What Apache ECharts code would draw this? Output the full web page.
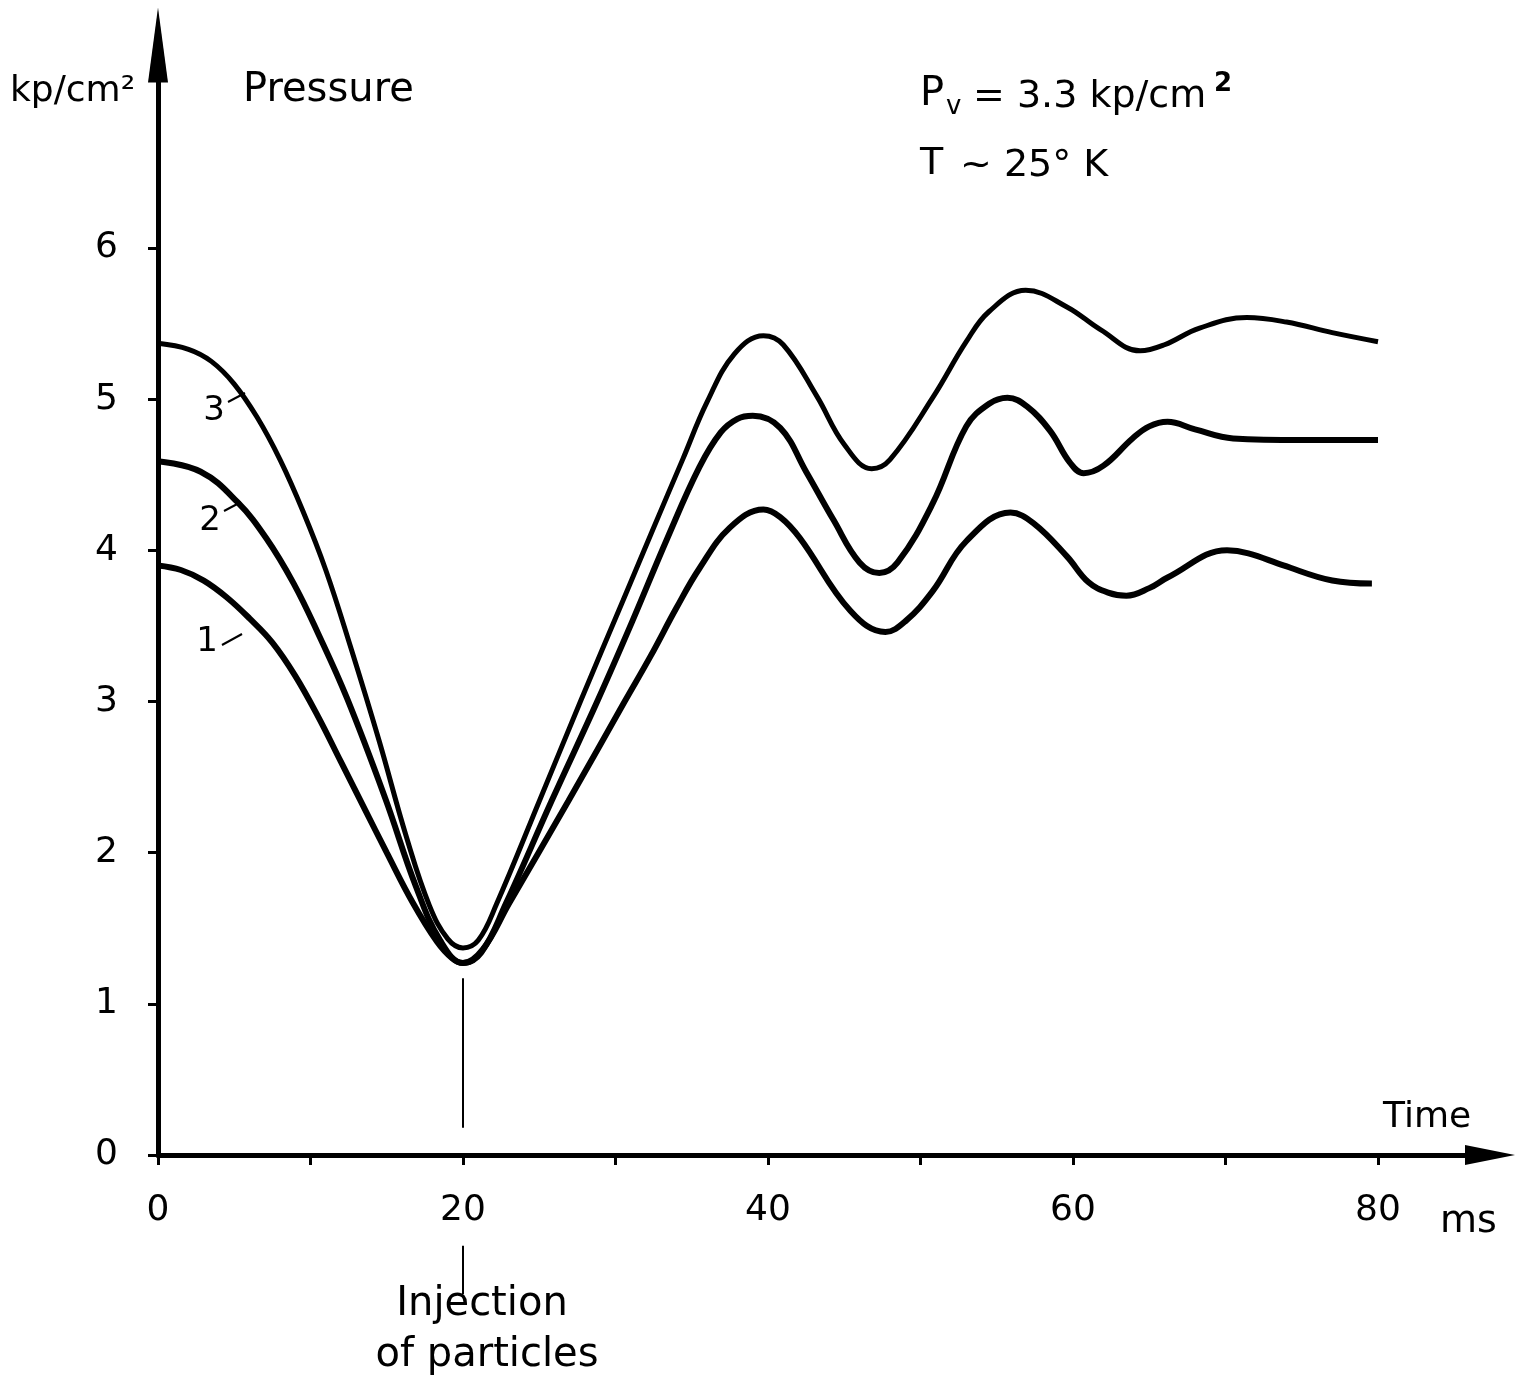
<!DOCTYPE html>
<html><head><meta charset="utf-8">
<script src="https://cdn.jsdelivr.net/npm/echarts@6/dist/echarts.min.js"></script>
<style>html,body{margin:0;padding:0;background:#fff}#c{width:1522px;height:1384px}</style>
</head><body><div id="c"></div>
<script>
// Time (ms) and pressure (kp/cm²)
const t1 = [0,1.5,3,4.5,6,7.5,9,10.5,12,13.5,15,16.7,18.3,19.3,20,21.3,23,26.9,30.6,32.3,34,35.5,37.5,39.7,40.8,42.1,45.4,47.7,49,50.8,53,55.9,57.4,59.6,61,62.3,63.5,65,66.2,70.1,71.5,73.8,77,79.6];
const p1 = [3.9,3.87,3.8,3.69,3.55,3.39,3.17,2.9,2.6,2.3,2.0,1.67,1.41,1.3,1.27,1.36,1.66,2.34,3.0,3.3,3.62,3.88,4.15,4.27,4.22,4.08,3.6,3.46,3.53,3.73,4.06,4.25,4.18,3.96,3.79,3.72,3.70,3.75,3.82,4.0,3.98,3.9,3.80,3.78];
const t2 = [0,2.8,5.2,7.1,8.9,10.5,12.4,14.9,16.9,18.5,20,21.2,22.8,25.8,28.8,31.1,33.4,35.5,36.9,38,39,40.8,42.5,44.3,46,47.3,48.5,50.8,53,54.5,55.7,57,58.5,59.8,60.7,62,63.9,65,66.2,68,70.5,75,80];
const p2 = [4.59,4.52,4.32,4.08,3.78,3.45,3.02,2.36,1.78,1.42,1.27,1.34,1.66,2.34,3.0,3.53,4.08,4.55,4.78,4.87,4.89,4.81,4.52,4.2,3.92,3.85,3.92,4.31,4.82,4.97,5.01,4.95,4.79,4.58,4.51,4.56,4.74,4.82,4.85,4.8,4.74,4.73,4.73];
const t3 = [0,2,3.5,5,6.5,8,9.5,11,12.6,14.5,16.3,17.8,19,20,21,22.2,25,27.7,30.5,32.5,34.4,36,37.8,39.7,41,43.2,45,46.8,48,50.8,53,54.5,56.9,59.6,61.8,64.4,66,68.3,71.4,74,77,80];
const p3 = [5.37,5.33,5.25,5.1,4.88,4.6,4.26,3.87,3.37,2.74,2.1,1.65,1.43,1.37,1.42,1.66,2.34,3.0,3.67,4.15,4.6,4.98,5.3,5.42,5.36,5.02,4.7,4.54,4.6,5.01,5.38,5.58,5.72,5.61,5.46,5.32,5.36,5.47,5.54,5.51,5.44,5.38];
const xTicks = [0,10,20,30,40,50,60,70,80];
const yTicks = [0,1,2,3,4,5,6];
const injectionTime = 20;

const zip = (t, p) => t.map((v, i) => [v, p[i]]);
const FONT = 'DejaVu Sans';
const chart = echarts.init(document.getElementById('c'));
const lineSeries = (name, t, p, w) => ({
  name, type: 'line', xAxisIndex: 0, yAxisIndex: 0, data: zip(t, p),
  smooth: 0.4, symbol: 'none', lineStyle: {color: '#000', width: w}, z: 3
});
chart.setOption({
  animation: false,
  backgroundColor: '#fff',
  grid: [
    {left: 158, right: 144, top: 248, bottom: 229},
    {left: 158, right: 32, top: 45, bottom: 229}
  ],
  xAxis: [
    {type: 'value', gridIndex: 0, min: xTicks[0], max: xTicks[xTicks.length-1], interval: 10,
     axisLine: {show: false}, splitLine: {show: false},
     axisTick: {show: true, inside: false, length: 10, lineStyle: {color: '#000', width: 3}},
     axisLabel: {margin: 38, color: '#000', fontSize: 36, fontFamily: FONT,
       formatter: v => (v % 20 === 0 ? String(v) : '')}},
    {type: 'value', gridIndex: 1, min: 0, max: 100,
     axisLine: {show: true, symbol: ['none', 'triangle'], symbolSize: [20, 50],
       lineStyle: {color: '#000', width: 5}},
     axisTick: {show: false}, axisLabel: {show: false}, splitLine: {show: false}}
  ],
  yAxis: [
    {type: 'value', gridIndex: 0, min: yTicks[0], max: yTicks[yTicks.length-1], interval: 1,
     axisLine: {show: false}, splitLine: {show: false},
     axisTick: {show: true, length: 10, lineStyle: {color: '#000', width: 3}},
     axisLabel: {margin: 40, color: '#000', fontSize: 36, fontFamily: FONT}},
    {type: 'value', gridIndex: 1, min: 0, max: 100,
     axisLine: {show: true, symbol: ['none', 'triangle'], symbolSize: [20, 75],
       lineStyle: {color: '#000', width: 5}},
     axisTick: {show: false}, axisLabel: {show: false}, splitLine: {show: false}}
  ],
  series: [
    lineSeries('1', t1, p1, 6),
    lineSeries('2', t2, p2, 6),
    lineSeries('3', t3, p3, 5)
  ]
});

const px = (x, y) => chart.convertToPixel({gridIndex: 0}, [x, y]);
const txt = (text, x, y, size, align, weight) => ({
  type: 'text', z: 10,
  style: {text, x, y, font: (weight || 'normal') + ' ' + size + 'px "' + FONT + '"', fill: '#000',
    align: align || 'left', textAlign: align || 'left', verticalAlign: 'middle', textVerticalAlign: 'middle'}
});
const seg = (a, b, w) => ({type: 'line', shape: {x1: a[0], y1: a[1], x2: b[0], y2: b[1]},
  style: {stroke: '#000', lineWidth: w}, z: 10});

const inA = px(injectionTime, 1.17), inB = px(injectionTime, 0.18);
const inC = px(injectionTime, -0.6), inD = px(injectionTime, -0.92);
chart.setOption({graphic: [
  txt('kp/cm²', 10, 92, 36),
  txt('Pressure', 243, 91, 40),
  txt('P', 920, 95, 40),
  txt('v', 946, 107, 26),
  txt('= 3.3 kp/cm', 973, 97, 38),
  txt('2', 1214, 84, 26, 'left', 'bold'),
  txt('T', 920, 164, 38),
  txt('~ 25° K', 960, 166, 38),
  txt('Time', 1383, 1118, 36),
  txt('ms', 1440, 1222, 38),
  txt('Injection', 482, 1305, 40, 'center'),
  txt('of particles', 487, 1356, 40, 'center'),
  txt('3', 214, 411, 34, 'center'),
  txt('2', 210, 521, 34, 'center'),
  txt('1', 207, 642, 34, 'center'),
  seg([228, 402], [245, 393], 2),
  seg([224, 511], [241, 502], 2),
  seg([222, 645], [242, 634], 2),
  seg(inA, inB, 2),
  seg(inC, inD, 2)
]});
</script></body></html>
